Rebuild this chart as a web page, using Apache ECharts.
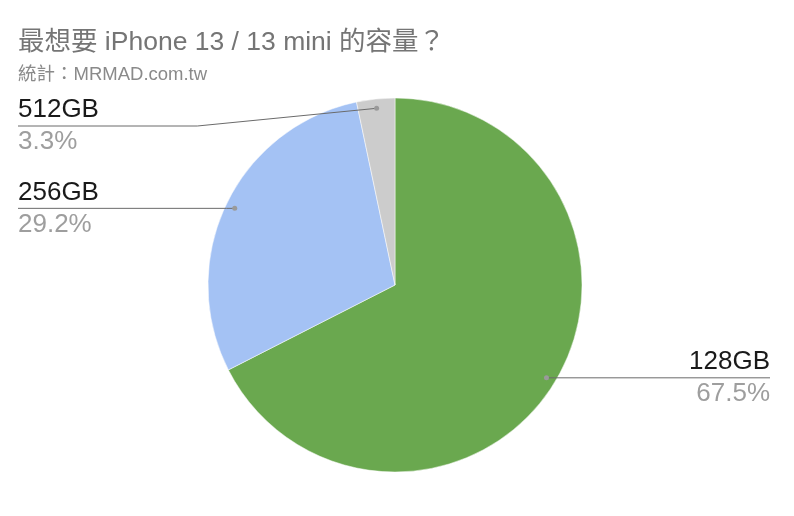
<!DOCTYPE html>
<html>
<head>
<meta charset="utf-8">
<script src="https://cdn.jsdelivr.net/npm/echarts@6/dist/echarts.min.js"></script>
<style>
html,body{margin:0;padding:0;background:#fff;}
#main{width:794px;height:516px;}
</style>
</head>
<body>
<div id="main"></div>
<script>
var titleText = '最想要 iPhone 13 / 13 mini 的容量？';
var subtitleText = '統計：MRMAD.com.tw';
var categories = ['128GB', '256GB', '512GB'];
var values = [67.5, 29.2, 3.3];
var colors = ['#6aa84f', '#a4c2f4', '#cccccc'];

var FONT = '"Liberation Sans", Arial, "Noto Sans CJK TC", sans-serif';
var chart = echarts.init(document.getElementById('main'), null, {renderer: 'canvas'});
var CENTER = [395, 285];
var RADIUS = 187;
var ANCHOR_RATIO = 0.95;
var MIN_LABEL_Y = 126;
var anchors = [];

var pieData = categories.map(function (c, i) { return {name: c, value: values[i]}; });

var option = {
  backgroundColor: '#ffffff',
  animation: false,
  color: colors,
  title: {
    text: titleText,
    subtext: subtitleText,
    left: 13,
    top: 24,
    itemGap: 10,
    textStyle: {fontFamily: FONT, fontSize: 26.5, fontWeight: 'normal', color: '#757575'},
    subtextStyle: {fontFamily: FONT, fontSize: 18.5, color: '#8a8a8a'}
  },
  series: [{
    // the filled slices
    type: 'pie',
    z: 2,
    left: 0, right: 6, top: 0, bottom: 0,
    center: CENTER,
    radius: [0, RADIUS],
    startAngle: 90,
    clockwise: true,
    data: pieData,
    itemStyle: {borderColor: '#ffffff', borderWidth: 0.5},
    label: {show: false},
    labelLine: {show: false},
    emphasis: {disabled: true}
  }, {
    // same data, transparent, carrying labels and guide lines above the slices
    type: 'pie',
    z: 3,
    left: 0, right: 6, top: 0, bottom: 0,
    center: CENTER,
    radius: [0, RADIUS],
    startAngle: 90,
    clockwise: true,
    percentPrecision: 1,
    avoidLabelOverlap: false,
    silent: true,
    data: pieData,
    itemStyle: {color: 'rgba(0,0,0,0)'},
    label: {
      show: true,
      position: 'outer',
      alignTo: 'edge',
      edgeDistance: 18,
      bleedMargin: 0,
      formatter: '{n|{b}}\n{p|{d}%}',
      rich: {
        n: {fontFamily: FONT, fontSize: 26, color: '#1a1a1a', lineHeight: 30, padding: [0, 0, 2, 0]},
        p: {fontFamily: FONT, fontSize: 26, color: '#9e9e9e', lineHeight: 30, padding: [2, 0, 0, 0]}
      }
    },
    labelLine: {
      show: true,
      length: 0,
      length2: 20,
      lineStyle: {color: '#6b6b6b', width: 1}
    },
    labelLayout: function (params) {
      var isLeft = params.labelRect.x < chart.getWidth() / 2;
      var src = params.labelLinePoints;
      if (!src) return {};
      var pts = src.map(function (p) { return [p[0], p[1]]; });
      var p0 = pts[0];
      var nx = CENTER[0] + (p0[0] - CENTER[0]) * ANCHOR_RATIO;
      var ny = CENTER[1] + (p0[1] - CENTER[1]) * ANCHOR_RATIO;
      var dy = ny - p0[1];
      pts[0] = [nx, ny];
      pts[1][1] += dy;
      pts[2][1] += dy;
      var cy = params.labelRect.y + params.labelRect.height / 2 + dy;
      if (cy < MIN_LABEL_Y) {
        var extra = MIN_LABEL_Y - cy;
        dy += extra;
        pts[1][0] = (nx + params.labelRect.x) / 2;
        pts[1][1] += extra;
        pts[2][1] += extra;
      }
      pts[2][0] = isLeft ? params.labelRect.x : params.labelRect.x + params.labelRect.width;
      anchors[params.dataIndex] = [nx, ny];
      return {labelLinePoints: pts, dy: dy};
    },
    emphasis: {disabled: true}
  }]
};
chart.setOption(option);

// small dots at the start of each guide line, taken from the library's label layout
var zr = chart.getZr();
anchors.forEach(function (a) {
  if (!a) return;
  zr.add(new echarts.graphic.Circle({
    shape: {cx: a[0], cy: a[1], r: 2.5},
    style: {fill: '#9a9a9a'},
    z: 100,
    silent: true
  }));
});
</script>
</body>
</html>
